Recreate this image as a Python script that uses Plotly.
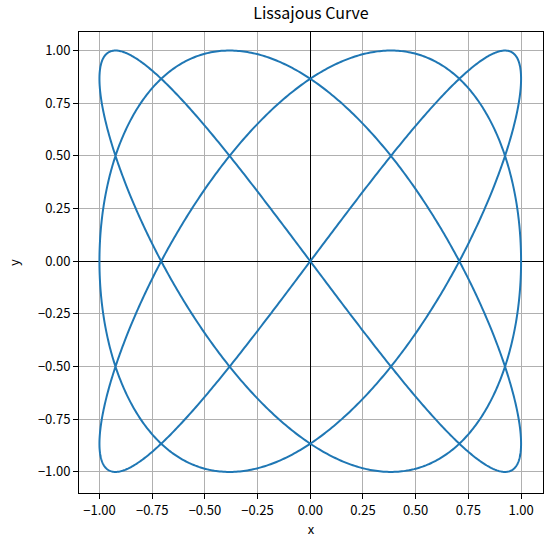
import numpy as np
import plotly.graph_objects as go

# Lissajous parameters
freq_x = 3
freq_y = 4
phase_x = np.pi / 2
n_samples = 2000

tick_vals = [-1.0, -0.75, -0.5, -0.25, 0.0, 0.25, 0.5, 0.75, 1.0]
tick_text = ["\u22121.00", "\u22120.75", "\u22120.50", "\u22120.25", "0.00", "0.25", "0.50", "0.75", "1.00"]

t = np.linspace(0, 2 * np.pi, n_samples)
x = np.sin(freq_x * t + phase_x)
y = np.sin(freq_y * t)

font_family = "Noto Sans CJK JP, Noto Sans, DejaVu Sans, sans-serif"

fig = go.Figure()
fig.add_trace(go.Scatter(x=x, y=y, mode="lines",
                         line=dict(color="#1f77b4", width=2, simplify=False), showlegend=False))

axis_common = dict(
    tickvals=tick_vals, ticktext=tick_text,
    showgrid=True, gridcolor="#b0b0b0", gridwidth=1,
    zeroline=True, zerolinecolor="black", zerolinewidth=1,
    showline=True, linecolor="black", linewidth=1, mirror=True,
    ticks="outside", ticklen=5, tickcolor="black", tickwidth=1,
    tickfont=dict(size=13, color="black", family=font_family),
    automargin=False,
)

fig.update_layout(
    width=552, height=544,
    margin=dict(l=79, r=9, t=32, b=51),
    paper_bgcolor="white", plot_bgcolor="white",
    title=dict(text="Lissajous Curve", x=0.5, xanchor="center", y=0.975, yanchor="middle",
               xref="paper",
               font=dict(size=16, color="black", family=font_family)),
    xaxis=dict(range=[-1.097, 1.104],
               title=dict(text="x", font=dict(size=13, color="black", family=font_family), standoff=3),
               **axis_common),
    yaxis=dict(range=[-1.1, 1.088],
               title=dict(text="y", font=dict(size=13, color="black", family=font_family), standoff=15),
               **axis_common),
    font=dict(family=font_family, color="black"),
)

fig.write_html("out.html", config={"displayModeBar": False},
               post_script="document.body.style.margin='0';document.body.style.padding='0';")
